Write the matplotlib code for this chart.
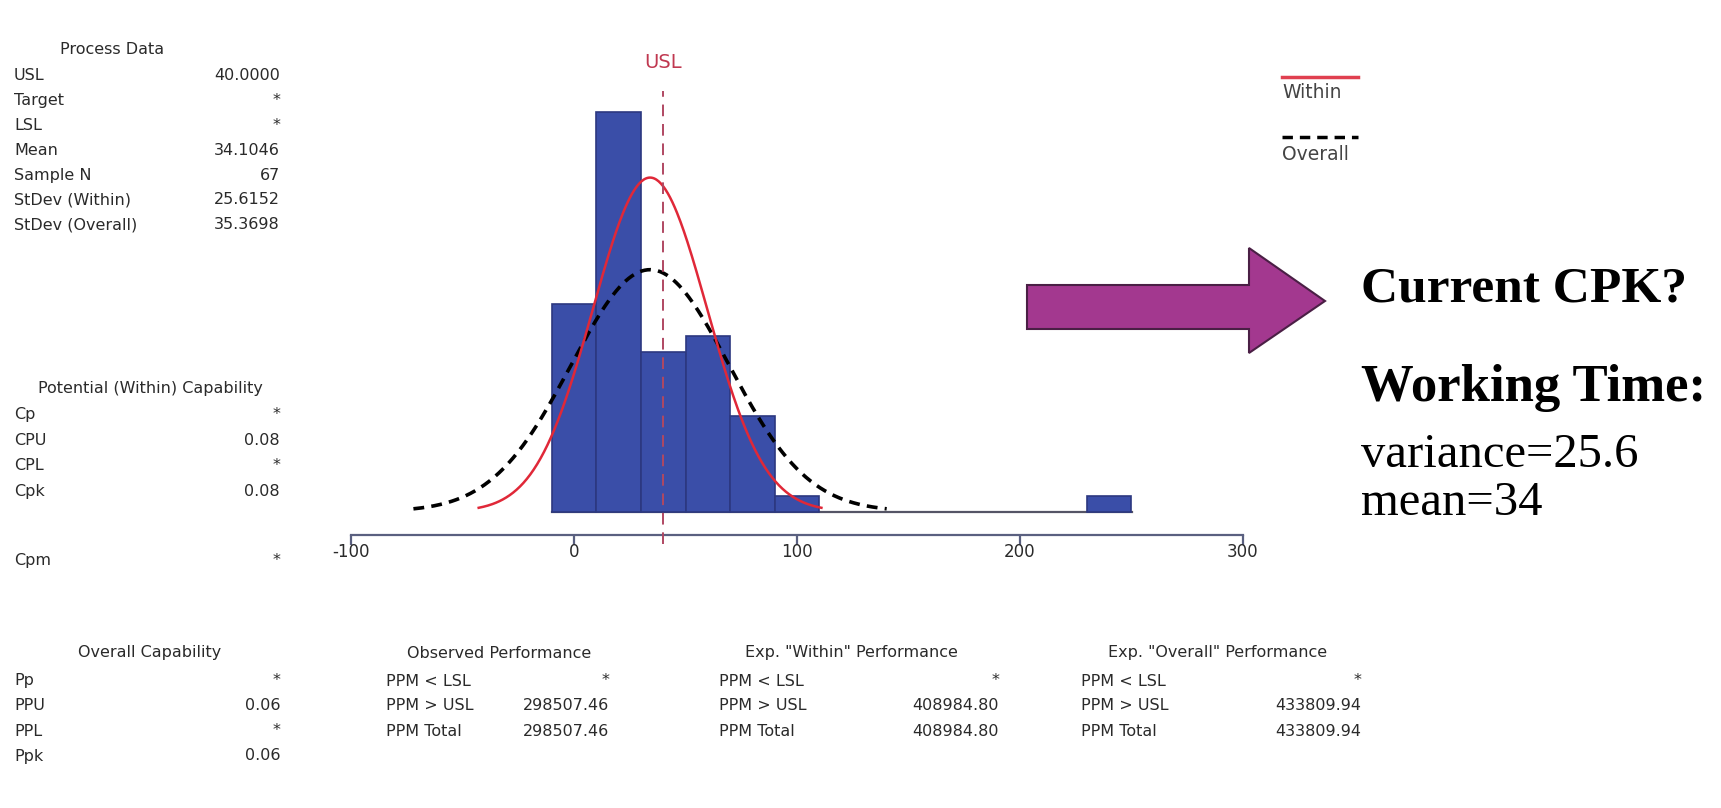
import numpy as np
import matplotlib
matplotlib.use('Agg')
import matplotlib.pyplot as plt
from matplotlib.patches import Polygon
from matplotlib.transforms import IdentityTransform

# ── 資料 ────────────────────────────────────────────────
bin_edges = [-10, 10, 30, 50, 70, 90, 110, 130, 150, 170, 190, 210, 230, 250]
counts    = [13, 25, 10, 11, 6, 1, 0, 0, 0, 0, 0, 0, 1]
usl = 40.0
mean = 34.1046
n_sample = 67
sd_within = 25.6152
sd_overall = 35.3698
x_ticks = [-100, 0, 100, 200, 300]

process_labels = ['USL', 'Target', 'LSL', 'Mean', 'Sample N', 'StDev (Within)', 'StDev (Overall)']
process_values = ['40.0000', '*', '*', '34.1046', '67', '25.6152', '35.3698']
within_labels = ['Cp', 'CPU', 'CPL', 'Cpk']
within_values = ['*', '0.08', '*', '0.08']
overall_labels = ['Pp', 'PPU', 'PPL', 'Ppk']
overall_values = ['*', '0.06', '*', '0.06']
ppm_labels = ['PPM < LSL', 'PPM > USL', 'PPM Total']
observed_ppm = ['*', '298507.46', '298507.46']
within_ppm = ['*', '408984.80', '408984.80']
overall_ppm = ['*', '433809.94', '433809.94']

W, H = 1721, 808
fig = plt.figure(figsize=(W / 100, H / 100), dpi=100)
fig.patch.set_facecolor('white')

def fx(x):
    return x / W

def fy(y):
    return 1 - y / H

SANS = ['DejaVu Sans']
SERIF = ['Liberation Serif', 'DejaVu Serif']
TXT = '#2a2a2a'
FS = 11.5

# ── 直方圖 ──────────────────────────────────────────────
x_left, x_right = 351, 1243
y_zero, unit = 511.5, 16.0
y_axis = 534.5
ymin = -(y_axis - y_zero) / unit
y_top_px = 86
ymax = (y_zero - y_top_px) / unit
ax = fig.add_axes([fx(x_left), fy(y_axis), (x_right - x_left) / W, (y_axis - y_top_px) / H])
ax.set_xlim(-100, 300)
ax.set_ylim(ymin, ymax)

lefts = np.array(bin_edges[:-1])
widths = np.diff(bin_edges)
cnt = np.array(counts)
nz = cnt > 0
ax.plot([bin_edges[0], bin_edges[-1]], [0, 0], color='#555566', linewidth=1.6, zorder=1)
ax.bar(lefts[nz], cnt[nz], width=widths[nz], align='edge', color='#3a4ea8',
       edgecolor='#2c3880', linewidth=1.2, zorder=2)

# 常態曲線（依表中 Mean / StDev）
xs_w = np.linspace(mean - 3 * sd_within, mean + 3 * sd_within, 300)
xs_o = np.linspace(mean - 3 * sd_overall, mean + 3 * sd_overall, 300)
scale = n_sample * 20
pdf_w = scale * np.exp(-0.5 * ((xs_w - mean) / sd_within) ** 2) / (sd_within * np.sqrt(2 * np.pi))
pdf_o = scale * np.exp(-0.5 * ((xs_o - mean) / sd_overall) ** 2) / (sd_overall * np.sqrt(2 * np.pi))
ax.plot(xs_o, pdf_o, color='black', linestyle=(0, (3, 2)), linewidth=2.6, zorder=3)
ax.plot(xs_w, pdf_w, color='#e02838', linewidth=1.8, zorder=4)

ax.plot([usl, usl], [ymin - 0.6, ymax - 0.3], color='#b04862', linestyle=(0, (6, 4)),
        linewidth=1.4, clip_on=False, zorder=5)
ax.text(usl, ymax + 1.5, 'USL', color='#c03850', fontsize=14, ha='center', va='center',
        family=SANS)

for s in ['top', 'right', 'left']:
    ax.spines[s].set_visible(False)
ax.spines['bottom'].set_color('#5a6080')
ax.spines['bottom'].set_linewidth(1.6)
ax.set_yticks([])
ax.set_xticks(x_ticks)
ax.set_xticklabels([str(t) for t in x_ticks], family=SANS, fontsize=12, color=TXT)
ax.tick_params(axis='x', direction='out', length=7, width=1.6, color='#5a6080', pad=-1)

# 圖例
fig.add_artist(plt.Line2D([fx(1282), fx(1358)], [fy(77), fy(77)], color='#e04050', linewidth=2.5))
fig.text(fx(1282), fy(93), 'Within', fontsize=13.5, color='#444444', va='center', family=SANS)
fig.add_artist(plt.Line2D([fx(1282), fx(1358)], [fy(137), fy(137)], color='black',
                          linestyle=(0, (3, 2)), linewidth=2.5))
fig.text(fx(1282), fy(155), 'Overall', fontsize=13.5, color='#444444', va='center', family=SANS)

# ── 左側表格 ────────────────────────────────────────────
def table_rows(labels, values, x_lab, x_val, y0, step):
    for i, (lab, val) in enumerate(zip(labels, values)):
        y = y0 + i * step
        fig.text(fx(x_lab), fy(y), lab, fontsize=FS, color=TXT, va='center', ha='left', family=SANS)
        fig.text(fx(x_val), fy(y), val, fontsize=FS, color=TXT, va='center', ha='right', family=SANS)

fig.text(fx(112), fy(50), 'Process Data', fontsize=FS, color=TXT, ha='center', va='center', family=SANS)
table_rows(process_labels, process_values, 14, 280, 76, 24.8)

fig.text(fx(150), fy(388), 'Potential (Within) Capability', fontsize=FS, color=TXT,
         ha='center', va='center', family=SANS)
table_rows(within_labels, within_values, 14, 280, 415, 25.5)
table_rows(['Cpm'], ['*'], 14, 280, 561, 25)

fig.text(fx(150), fy(653), 'Overall Capability', fontsize=FS, color=TXT, ha='center', va='center', family=SANS)
table_rows(overall_labels, overall_values, 14, 280, 681, 25)

# ── 下方表格 ────────────────────────────────────────────
fig.text(fx(499), fy(653), 'Observed Performance', fontsize=FS, color=TXT, ha='center', va='center', family=SANS)
table_rows(ppm_labels, observed_ppm, 386, 609, 681, 25)
fig.text(fx(851), fy(653), 'Exp. "Within" Performance', fontsize=FS, color=TXT, ha='center', va='center', family=SANS)
table_rows(ppm_labels, within_ppm, 719, 999, 681, 25)
fig.text(fx(1218), fy(653), 'Exp. "Overall" Performance', fontsize=FS, color=TXT, ha='center', va='center', family=SANS)
table_rows(ppm_labels, overall_ppm, 1081, 1361, 681, 25)

# ── 箭頭 ────────────────────────────────────────────────
arrow_px = [(1027, 285), (1249, 285), (1249, 248), (1325, 301),
            (1249, 353), (1249, 329), (1027, 329)]
arrow = Polygon([(x, H - y) for x, y in arrow_px], closed=True, facecolor='#a3388f',
                edgecolor='#4a1f45', linewidth=1.5, transform=IdentityTransform())
fig.add_artist(arrow)

# ── 右側文字 ────────────────────────────────────────────
fig.text(fx(1361), fy(289), 'Current CPK?', fontsize=37, fontweight='bold', color='black',
         va='center', family=SERIF)
fig.text(fx(1361), fy(388), 'Working Time:', fontsize=38, fontweight='bold', color='black',
         va='center', family=SERIF)
fig.text(fx(1361), fy(455), 'variance=25.6', fontsize=35, color='black', va='center', family=SERIF)
fig.text(fx(1361), fy(503), 'mean=34', fontsize=35, color='black', va='center', family=SERIF)

plt.savefig('out.png', dpi=100, facecolor='white')
plt.close()
